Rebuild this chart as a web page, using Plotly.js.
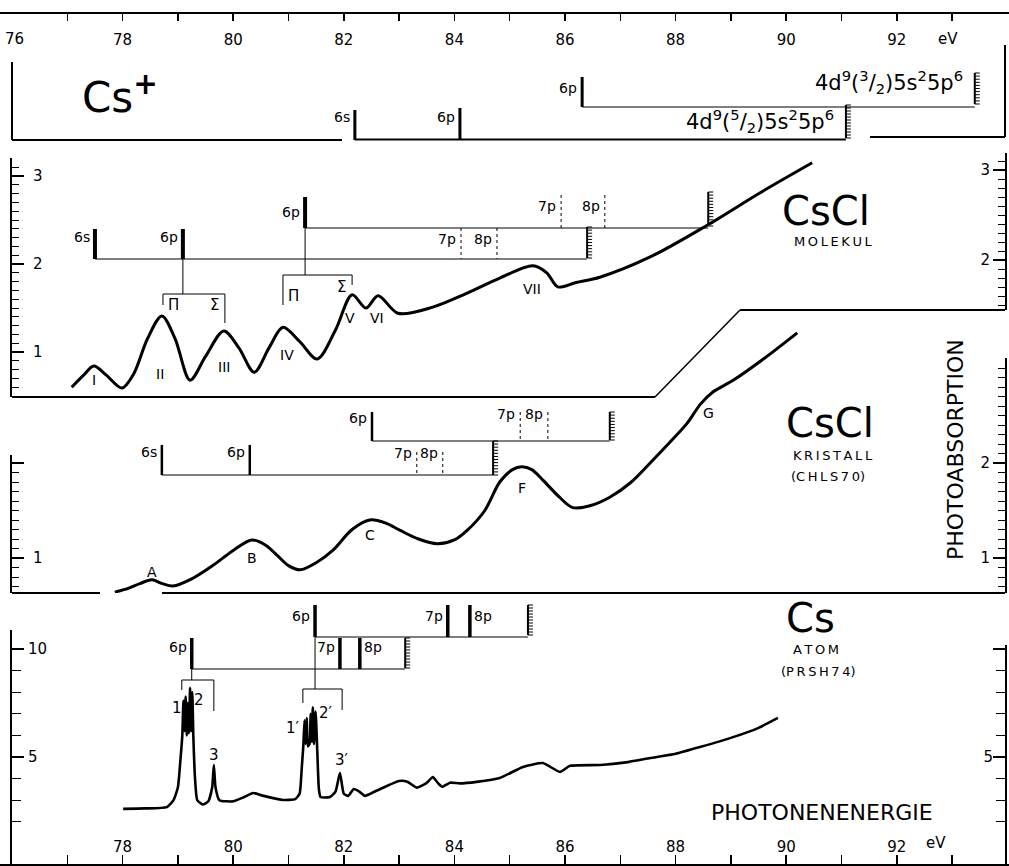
<!DOCTYPE html>
<html><head><meta charset="utf-8">
<script src="https://cdn.plot.ly/plotly-3.0.1.min.js"></script>
<style>html,body{margin:0;padding:0;background:#fff;}#chart{width:1009px;height:866px;}</style>
</head><body><div id="chart"></div>
<script>
// ================= DATA =================
// photon energy (eV) and photoabsorption
const molE = [77.08,77.30,77.48,77.70,77.99,78.20,78.45,78.71,78.95,79.22,79.50,79.83,80.10,80.38,80.65,80.90,81.20,81.52,81.85,82.15,82.40,82.62,82.98,83.61,84.20,84.82,85.42,85.67,85.87,86.20,86.63,87.54,88.57,89.53,90.47];
const molA = [0.60,0.74,0.84,0.74,0.59,0.75,1.15,1.41,1.15,0.68,0.95,1.24,1.05,0.77,1.05,1.28,1.12,0.92,1.25,1.65,1.50,1.64,1.44,1.51,1.66,1.84,1.98,1.90,1.74,1.79,1.85,2.08,2.44,2.81,3.15];

const cryE = [77.86,78.10,78.31,78.53,78.72,78.91,79.25,79.63,80.00,80.34,80.60,80.79,81.00,81.21,81.50,81.80,82.15,82.47,82.75,83.02,83.35,83.69,84.00,84.23,84.55,84.82,85.05,85.22,85.40,85.60,85.90,86.14,86.45,86.81,87.20,87.54,87.90,88.21,88.45,88.68,89.04,89.60,90.20];
const cryA = [0.64,0.68,0.73,0.77,0.73,0.705,0.78,0.92,1.08,1.19,1.13,1.03,0.92,0.875,0.95,1.08,1.30,1.40,1.37,1.29,1.20,1.15,1.19,1.29,1.50,1.80,1.93,1.96,1.93,1.82,1.64,1.53,1.55,1.64,1.80,2.00,2.22,2.42,2.62,2.75,2.87,3.10,3.37];

const atomE = [78.01,78.40,78.80,78.92,79.00,79.05,79.08,79.10,79.12,79.14,79.16,79.18,79.20,79.22,79.24,79.26,79.28,79.31,79.35,79.45,79.55,79.62,79.65,79.68,79.75,80.00,80.20,80.36,80.55,80.90,81.12,81.20,81.24,81.27,81.29,81.31,81.33,81.35,81.38,81.40,81.42,81.44,81.46,81.49,81.52,81.55,81.58,81.75,81.85,81.93,82.00,82.08,82.18,82.28,82.38,82.60,83.00,83.15,83.32,83.50,83.61,83.70,83.78,83.92,84.10,84.40,84.82,85.24,85.60,85.91,86.09,86.63,87.10,87.54,88.00,88.44,89.04,89.50,89.85];
const atomA = [2.60,2.62,2.68,3.00,3.60,5.00,6.00,7.60,6.20,7.80,6.00,7.50,6.10,8.20,6.20,8.00,5.90,4.00,3.00,2.80,2.95,3.60,4.63,3.60,3.00,2.95,3.15,3.33,3.20,3.01,3.05,3.30,4.50,5.60,6.70,5.60,6.80,5.50,5.60,7.00,5.70,7.30,5.60,7.10,5.30,3.50,3.15,3.15,3.40,4.26,3.30,3.20,3.52,3.40,3.20,3.45,3.89,3.85,3.58,3.80,4.07,3.80,3.62,3.81,3.78,3.85,4.03,4.54,4.72,4.31,4.59,4.63,4.75,4.95,5.15,5.46,5.92,6.35,6.81];

// axis tick labels
const topTickVals = [76,77,78,79,80,81,82,83,84,85,86,87,88,89,90,91,92,93];
const topTickText = ['','','78','','80','','82','','84','','86','','88','','90','','92',''];
const botTickVals = [77,78,79,80,81,82,83,84,85,86,87,88,89,90,91,92,93];
const botTickText = ['','78','','80','','82','','84','','86','','88','','90','','92',''];

// peak labels and energies
const molPeakNames = ['I','II','III','IV','V','VI','VII'];
const molPeakE     = [77.48,78.68,79.83,80.97,82.11,82.60,85.40];
const cryPeakNames = ['A','B','C','F','G'];
const cryPeakE     = [78.53,80.34,82.47,85.22,88.60];
const atomPeakNames = ['1','2','3','1\u2032','2\u2032','3\u2032'];
const atomPeakE     = [78.98,79.38,79.65,81.08,81.68,81.97];

// term series (energies in eV)
const ionS1Names = ['6s','6p'], ionS1E = [82.20,84.10], ionS1Limit = 91.08;
const ionS2Names = ['6p'],      ionS2E = [86.31],       ionS2Limit = 93.41;
const molLowNames = ['6s','6p','7p','8p'], molLowE = [77.50,79.09,84.12,84.77], molLowLimit = 86.40;
const molUpNames  = ['6p','7p','8p'],      molUpE  = [81.30,85.93,86.72],       molUpLimit  = 88.59;
const cryLowNames = ['6s','6p','7p','8p'], cryLowE = [78.71,80.30,83.32,83.79], cryLowLimit = 84.70;
const cryUpNames  = ['6p','7p','8p'],      cryUpE  = [82.51,85.19,85.69],       cryUpLimit  = 86.81;
const atLowNames  = ['6p','7p','8p'],      atLowE  = [79.25,81.93,82.29],       atLowLimit  = 83.11;
const atUpNames   = ['6p','7p','8p'],      atUpE   = [81.48,83.88,84.28],       atUpLimit   = 85.33;
// Pi / Sigma splitting brackets (molecule) and doublet brackets (atom)
const molBracketE = [[78.73,79.85],[80.90,82.15]];
const atomBracketE = [[79.07,79.65],[81.26,81.97]];

// ================= LAYOUT HELPERS =================
const W=1009, H=866, PXEV=55.3, XPIX0=12, E0=76;
const XR=[E0-XPIX0/PXEV, E0+(W-XPIX0)/PXEV];
const F='DejaVu Sans, Arial, sans-serif';
const py=p=>1-p/H, pxp=p=>p/W;
const shapes=[], ann=[];
function seg(x0,y0,x1,y1,w,dash,xref){
  shapes.push({type:'line',xref:xref||'x',yref:'paper',x0:x0,y0:py(y0),x1:x1,y1:py(y1),
    line:{color:'#000',width:w||1,dash:dash||'solid'}});
}
function pseg(x0,y0,x1,y1,w){ seg(pxp(x0),y0,pxp(x1),y1,w,'solid','paper'); }
function hatch(e,yT,yB){
  seg(e,yT,e,yB,2);
  const n=Math.round((yB-yT)/3);
  for(let i=0;i<=n;i++){ const y=yT+i*(yB-yT)/n; seg(e,y,e+5/PXEV,y,1); }
}
function txt(t,e,yp,size,xa,extra){
  ann.push(Object.assign({text:t,x:e,y:py(yp),xref:'x',yref:'paper',showarrow:false,
    xanchor:xa||'center',yanchor:'middle',font:{size:size||14,color:'#000',family:F}},extra||{}));
}
function ptxt(t,xp,yp,size,extra){
  ann.push(Object.assign({text:t,x:pxp(xp),y:py(yp),xref:'paper',yref:'paper',showarrow:false,
    xanchor:'center',yanchor:'middle',font:{size:size||14,color:'#000',family:F}},extra||{}));
}
function lvLabel(name,e,yp,side){
  if(side==='r') txt(name,e,yp,14,'left',{xshift:2});
  else txt(name,e,yp,14,'right',{xshift:-3});
}

// ---- Cs+ panel ----
pseg(12,62,12,140,2); pseg(12,140,342,140,2);
pseg(870,137,1005,137,2); pseg(1005,137,1005,45,2);
ionS1E.forEach((e,i)=>{ seg(e,[110,108][i],e,140,3); lvLabel(ionS1Names[i],e,117); });
seg(ionS1E[0],139.5,ionS1Limit,139.5,2);
hatch(ionS1Limit,105,138);
ionS2E.forEach((e,i)=>{ seg(e,77,e,107,3); lvLabel(ionS2Names[i],e,88); });
seg(ionS2E[0],107,ionS2Limit,107,1.2);
hatch(ionS2Limit,73,104);
txt('4d<sup>9</sup>(<sup>3</sup>/<sub>2</sub>)5s<sup>2</sup>5p<sup>6</sup>',ionS2Limit,82,21,'right',{xshift:-10});
txt('4d<sup>9</sup>(<sup>5</sup>/<sub>2</sub>)5s<sup>2</sup>5p<sup>6</sup>',ionS1Limit,121,21,'right',{xshift:-10});
ptxt('Cs<sup><b>+</b></sup>',120,95,42);
ptxt('76',14,39,15);
ptxt('eV',948,39,15);

// ---- molecule panel ----
pseg(12,397,655,397,2); pseg(655,397,740,310,1.5); pseg(740,310,1005,310,2);
molLowE.forEach((e,i)=>{
  if(i<2){ seg(e,229,e,259,4); lvLabel(molLowNames[i],e,237); }
  else { seg(e,228,e,259,1,'3px,3px'); lvLabel(molLowNames[i],e,239); }
});
seg(molLowE[0],259,molLowLimit,259,1);
hatch(molLowLimit,227,258);
molUpE.forEach((e,i)=>{
  if(i<1){ seg(e,197,e,228,4); lvLabel(molUpNames[i],e,212); }
  else { seg(e,195,e,228,1,'3px,3px'); lvLabel(molUpNames[i],e,206); }
});
seg(molUpE[0],228,molUpLimit,228,1);
hatch(molUpLimit,192,226);
// Pi/Sigma brackets
seg(molLowE[1],259,molLowE[1],294,1);
seg(molBracketE[0][0],294,molBracketE[0][1],294,1);
seg(molBracketE[0][0],294,molBracketE[0][0],305,1);
seg(molBracketE[0][1],294,molBracketE[0][1],323,1);
seg(molUpE[0],228,molUpE[0],275,1);
seg(molBracketE[1][0],275,molBracketE[1][1],275,1);
seg(molBracketE[1][0],275,molBracketE[1][0],305,1);
seg(molBracketE[1][1],275,molBracketE[1][1],285,1);
txt('\u03a0',molBracketE[0][0],305,15,'left',{xshift:3});
txt('\u03a3',molBracketE[0][1],305,15,'right',{xshift:-4});
txt('\u03a0',molBracketE[1][0],296,15,'left',{xshift:3});
txt('\u03a3',molBracketE[1][1],287,15,'right',{xshift:-4});
const molLabY=[380,374,367,355,318,318,289];
molPeakNames.forEach((n,i)=>txt(n,molPeakE[i],molLabY[i],14));
ptxt('CsCl',826,211,40);
ptxt('M\u2009O\u2009L\u2009E\u2009K\u2009U\u2009L',833,242,13);

// ---- crystal panel ----
pseg(12,593,100,593,2); pseg(162,593,1005,593,2);
cryLowE.forEach((e,i)=>{
  if(i<2){ seg(e,445,e,475,2.5); lvLabel(cryLowNames[i],e,452); }
  else { seg(e,452,e,475,1,'3px,3px'); lvLabel(cryLowNames[i],e,453); }
});
seg(cryLowE[0],475,cryLowLimit,475,1);
hatch(cryLowLimit,441,475);
cryUpE.forEach((e,i)=>{
  if(i<1){ seg(e,412,e,441,2.5); lvLabel(cryUpNames[i],e,418); }
  else { seg(e,412,e,441,1,'3px,3px'); lvLabel(cryUpNames[i],e,414); }
});
seg(cryUpE[0],441,cryUpLimit,441,1);
hatch(cryUpLimit,412,440);
const cryLabY=[572,558,535,488,413];
cryPeakNames.forEach((n,i)=>txt(n,cryPeakE[i],cryLabY[i],14));
ptxt('CsCl',830,423,40);
ptxt('K\u2009R\u2009I\u2009S\u2009T\u2009A\u2009L\u2009L',833,455,13);
ptxt('(C\u2009H\u2009L\u2009S\u20097\u20090)',828,476,13);
ptxt('PHOTOABSORPTION',955,450,22,{textangle:-90});

// ---- atom panel ----
atUpE.forEach((e,i)=>{ seg(e,605,e,637,3.5); lvLabel(atUpNames[i],e,616,i===2?'r':'l'); });
seg(atUpE[0],637,atUpLimit,637,1);
hatch(atUpLimit,605,635);
atLowE.forEach((e,i)=>{ seg(e,638,e,669,3.5); lvLabel(atLowNames[i],e,647,i===2?'r':'l'); });
seg(atLowE[0],669,atLowLimit,669,1);
hatch(atLowLimit,638,668);
seg(atLowE[0],669,atLowE[0],680,1);
seg(atomBracketE[0][0],680,atomBracketE[0][1],680,1);
seg(atomBracketE[0][0],680,atomBracketE[0][0],690,1);
seg(atomBracketE[0][1],680,atomBracketE[0][1],711,1);
seg(atUpE[0],637,atUpE[0],689,1);
seg(atomBracketE[1][0],689,atomBracketE[1][1],689,1);
seg(atomBracketE[1][0],689,atomBracketE[1][0],703,1);
seg(atomBracketE[1][1],689,atomBracketE[1][1],710,1);
const atomLabY=[708,700,755,728,713,760];
atomPeakNames.forEach((n,i)=>txt(n,atomPeakE[i],atomLabY[i],15));
ptxt('Cs',810,618,40);
ptxt('A\u2009T\u2009O\u2009M',816,649,13);
ptxt('(P\u2009R\u2009S\u2009H\u20097\u20094)',818,671,13);
ptxt('PHOTONENENERGIE',822,812,22);
ptxt('eV',936,843,15);

// ================= AXES =================
function dom(pB,pT){ return [Math.max(0,1-pB/H), 1-pT/H]; }
function rng(ref,pref,ppu,pB,pT){ return [ref+(pref-pB)/ppu, ref+(pref-pT)/ppu]; }
function yax(o){
  return Object.assign({
    anchor:'free', showline:true, linewidth:2, linecolor:'#000',
    ticks:'inside', ticklen:12, tickwidth:1.5, tickcolor:'#000',
    ticklabelposition:'inside', showgrid:false, zeroline:false, fixedrange:true,
    tickfont:{size:15,color:'#000',family:F}, tickmode:'array'
  },o);
}
const minor01={tickmode:'linear',tick0:0,dtick:0.1,ticks:'inside',ticklen:7,tickwidth:1,tickcolor:'#000',showgrid:false};
const minor1={tickmode:'linear',tick0:0,dtick:1,ticks:'inside',ticklen:9,tickwidth:1.2,tickcolor:'#000',showgrid:false};
const LPOS=11/W, RPOS=1006/W;

const layout={
  width:W, height:H, margin:{l:0,r:0,t:0,b:0},
  paper_bgcolor:'#fff', plot_bgcolor:'rgba(0,0,0,0)', showlegend:false,
  font:{family:F,color:'#000'},
  xaxis:{range:XR, domain:[0,1], anchor:'free', position:0.001, showline:true, linewidth:2, linecolor:'#000',
    ticks:'inside', ticklen:9, tickwidth:1.5, tickcolor:'#000', ticklabelposition:'inside',
    tickmode:'array', tickvals:botTickVals, ticktext:botTickText,
    tickfont:{size:15,color:'#000',family:F}, showgrid:false, zeroline:false, fixedrange:true},
  xaxis2:{range:XR, overlaying:'x', side:'top', anchor:'free', position:1-13/H, showline:true, linewidth:2, linecolor:'#000',
    ticks:'inside', ticklen:7, tickwidth:1.5, tickcolor:'#000', ticklabelposition:'inside', ticklabelstandoff:13,
    tickmode:'array', tickvals:topTickVals, ticktext:topTickText,
    tickfont:{size:15,color:'#000',family:F}, showgrid:false, zeroline:false, fixedrange:true},
  // atom, left / right
  yaxis: yax({domain:dom(866,630), range:rng(0,865,21.6,866,630), position:LPOS, side:'left', ticklabelstandoff:4,
    tickvals:[5,10], ticktext:['5','10'], minor:minor1}),
  yaxis2: yax({domain:dom(866,645), range:rng(0,865,21.6,866,645), position:RPOS, side:'right',
    tickvals:[5,10], ticktext:['5','10'], minor:minor1}),
  // crystal, left / right
  yaxis3: yax({domain:dom(593,455), range:rng(1,558,95,593,455), position:LPOS, side:'left', ticklabelstandoff:9,
    tickvals:[1,2], ticktext:['1','2'], minor:minor01}),
  yaxis4: yax({domain:dom(593,358), range:rng(1,558,95,593,358), position:RPOS, side:'right', ticklabelstandoff:3,
    tickvals:[1,2], ticktext:['1','2'], minor:minor01}),
  // molecule, left / right
  yaxis5: yax({domain:dom(397,158), range:rng(1,352,88,397,158), position:LPOS, side:'left', ticklabelstandoff:9,
    tickvals:[1,2,3], ticktext:['1','2','3'], minor:minor01}),
  yaxis6: yax({domain:dom(310,153), range:rng(2,260,90,310,153), position:RPOS, side:'right', ticklabelstandoff:3,
    tickvals:[2,3], ticktext:['2','3'], minor:minor01}),
  // hidden axis sharing the crystal scale, taller so the curve is not clipped
  yaxis7: {domain:dom(593,300), range:rng(1,558,95,593,300), anchor:'free', position:LPOS, visible:false, fixedrange:true},
  shapes:shapes, annotations:ann
};

const curve={color:'#000',width:3};
const traces=[
  {x:molE,y:molA,xaxis:'x',yaxis:'y5',mode:'lines',line:Object.assign({shape:'spline',smoothing:0.9},curve),hoverinfo:'skip'},
  {x:cryE,y:cryA,xaxis:'x',yaxis:'y7',mode:'lines',line:Object.assign({shape:'spline',smoothing:0.9},curve),hoverinfo:'skip'},
  {x:atomE,y:atomA,xaxis:'x',yaxis:'y',mode:'lines',line:{shape:'spline',smoothing:0.5,color:'#000',width:2.6},hoverinfo:'skip'},
  {x:[],y:[],xaxis:'x',yaxis:'y2',mode:'lines'},
  {x:[],y:[],xaxis:'x',yaxis:'y4',mode:'lines'},
  {x:[],y:[],xaxis:'x',yaxis:'y6',mode:'lines'},
  {x:[],y:[],xaxis:'x',yaxis:'y3',mode:'lines'},
  {x:[],y:[],xaxis:'x2',yaxis:'y',mode:'lines'}
];
Plotly.newPlot('chart',traces,layout,{staticPlot:true,displayModeBar:false});
</script></body></html>
